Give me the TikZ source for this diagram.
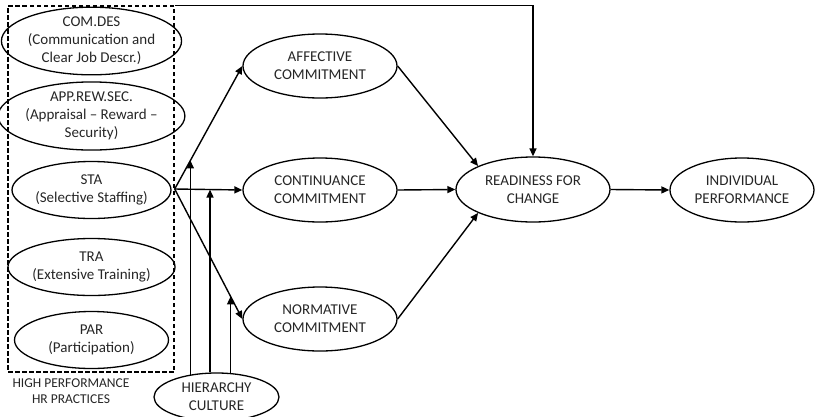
\documentclass[tikz,border=0pt]{standalone}
\usepackage{fontspec}
\setmainfont{Carlito}
\usetikzlibrary{arrows.meta,calc,shapes.geometric}
\begin{document}
\begin{tikzpicture}[x=1pt,y=-1pt,
  every node/.style={font=\fontsize{15}{18}\selectfont, text=black!85},
  ell/.style={draw, ellipse, line width=1.3pt, inner sep=0pt, align=center},
  lell/.style={ell, minimum width=154pt, minimum height=57pt},
  mell/.style={ell, minimum width=154pt, minimum height=64pt},
  arr/.style={line width=1.4pt, -{Triangle[length=8pt,width=7pt]}},
  ln/.style={line width=1.4pt}]
\useasboundingbox (0,0) rectangle (815,416);
\clip (0,0) rectangle (815,416);
% HR practices box
\node[draw, dash pattern=on 4.5pt off 2.5pt, line width=1.4pt, minimum width=166pt, minimum height=366pt, inner sep=0pt] (hrbox) at (91,189) {};
\node[lell] (com) at (91.5,41) {COM.DES\\(Communication and\\Clear Job Descr.)};
\node[lell] (app) at (91.5,116) {APP.REW.SEC.\\(Appraisal -- Reward --\\Security)};
\node[lell] (sta) at (91.5,190) {STA\\(Selective Staffing)};
\node[lell] (tra) at (91.5,267) {TRA\\(Extensive Training)};
\node[lell] (par) at (91.5,340) {PAR\\(Participation)};
\node[align=center, font=\fontsize{13.5}{16.5}\selectfont] (hrlab) at (71,391) {HIGH PERFORMANCE\\HR PRACTICES};
% commitments
\node[mell] (aff) at (320,66) {AFFECTIVE\\COMMITMENT};
\node[mell] (cont) at (320,190) {CONTINUANCE\\COMMITMENT};
\node[mell] (norm) at (320,319) {NORMATIVE\\COMMITMENT};
\node[ell, minimum width=154pt, minimum height=65pt] (ready) at (533,189.5) {READINESS FOR\\CHANGE};
\node[ell, minimum width=144pt, minimum height=64pt] (ind) at (742,190) {INDIVIDUAL\\PERFORMANCE};
\node[ell, minimum width=125pt, minimum height=48pt] (hier) at (216.5,397) {HIERARCHY\\CULTURE};
% arrows
\draw[arr] (hrbox.east) -- (aff.west);
\draw[arr] (hrbox.east) -- (cont.west);
\draw[arr] (hrbox.east) -- (norm.west);
\draw[arr] (aff.east) -- (ready.north west);
\draw[arr] (cont.east) -- (ready.west);
\draw[arr] (norm.east) -- (ready.south west);
\draw[arr] (ready.east) -- (ind.west);
\draw[arr] (hrbox.north east) -| (ready.north);
% moderation
\coordinate (m1) at ($(hrbox.east)!0.232!(aff.west)$);
\coordinate (m2) at ($(hrbox.east)!0.522!(cont.west)$);
\coordinate (m3) at ($(hrbox.east)!0.826!(norm.west)$);
\draw[arr] ([yshift=-2.2pt]hier.north -| m1) -- (m1);
\draw[arr] (hier.north -| m2) -- (m2);
\draw[arr] ([yshift=-0.6pt]hier.north -| m3) -- (m3);
\end{tikzpicture}
\end{document}
